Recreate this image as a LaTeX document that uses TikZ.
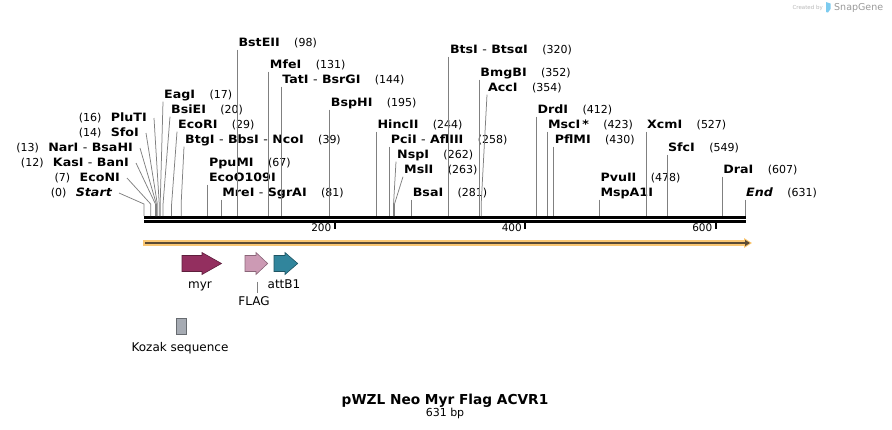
\documentclass[tikz,border=0pt]{standalone}
\usepackage{fontspec}
\setmainfont{DejaVu Sans}
\newfontfamily\enzfont[FakeStretch=1.1]{DejaVu Sans}
\usetikzlibrary{positioning,arrows.meta}

\definecolor{myrfill}{HTML}{932F5F}
\definecolor{myrline}{HTML}{5E1E3C}
\definecolor{flagfill}{HTML}{CC9AB4}
\definecolor{flagline}{HTML}{8A6578}
\definecolor{attfill}{HTML}{31859C}
\definecolor{attline}{HTML}{1F5563}
\definecolor{kozfill}{HTML}{A6ABB3}
\definecolor{kozline}{HTML}{676B70}
\definecolor{orfill}{HTML}{FAC773}
\definecolor{ordark}{HTML}{5B4B35}
\definecolor{snapblue}{HTML}{7CCBEF}

% bp -> x position on the map
\newcommand{\bpx}[1]{144+0.9525*#1}

\begin{document}
\begin{tikzpicture}[x=1pt,y=-1pt,
  enz/.style={font=\enzfont\bfseries\fontsize{11.5}{12}\selectfont, anchor=base west,
    inner xsep=1pt, inner ysep=1pt, text height=8.5pt, text depth=2.5pt},
  lenz/.style={enz, anchor=base east},
  num/.style={font=\fontsize{11}{12}\selectfont, inner xsep=1pt, inner ysep=1pt,
    text height=8.5pt, text depth=2.5pt},
  cut/.style={draw=black!50, line width=0.75pt},
  feat/.style={line width=0.6pt},
  flab/.style={font=\fontsize{12}{13}\selectfont, anchor=base}]

\useasboundingbox (0,0) rectangle (892,429);

% Credit line
\node[font=\fontsize{5.5}{6}\selectfont, text=black!28, anchor=base east, inner sep=0pt] (credit) at (823,9.5) {Created by};
\fill[snapblue] (826,2) -- (830.5,3.5) -- (830.5,9) -- (828,12.5) -- (826,12) -- cycle;
\node[font=\fontsize{9.5}{10}\selectfont, text=black!40, anchor=base west, inner sep=0pt] (snap) at (834,10.5) {SnapGene};

% Sites on the backbone
\foreach \p in {0,7,12,13,14,16,17,20,29,39,67,81,98,131,144,195,244,258,262,263,281,320,352,354,412,423,430,478,527,549,607,631}
  \coordinate (c\p) at ({\bpx{\p}},216);

% Backbone and ruler
\draw[line width=2.7pt] (144,217.3) -- (745.5,217.3);
\draw[line width=2.7pt] (144,221.5) -- (745.5,221.5);
\foreach \t in {200,400,600} {
  \draw[line width=2pt] ({\bpx{\t}},222.5) -- ({\bpx{\t}},229);
  \node[font=\fontsize{10.5}{11}\selectfont, anchor=base east, inner sep=0pt] (t\t) at ({\bpx{\t}-3},231) {\t};
}

% Enzymes, left side
\node[lenz] (n16) at (148,121) {PluTI};
\node[lenz] (n14) at (140,136) {SfoI};
\node[lenz] (n13) at (134,151) {NarI \textmd{-} BsaHI};
\node[lenz] (n12) at (130,166) {KasI \textmd{-} BanI};
\node[lenz] (n7) at (121,181) {EcoNI};
\node[lenz] (n0) at (113,196) {\itshape Start};
\node[num, left=7pt of n16] (p16) {(16)};
\node[num, left=7pt of n14] (p14) {(14)};
\node[num, left=7pt of n13] (p13) {(13)};
\node[num, left=7pt of n12] (p12) {(12)};
\node[num, left=7pt of n7] (p7) {(7)};
\node[num, left=7pt of n0] (p0) {(0)};

% Enzymes, right side
\node[enz] (n98) at ({\bpx{98}},46) {BstEII};
\node[enz] (n320) at ({\bpx{320}},53) {BtsI \textmd{-} BtsαI};
\node[enz] (n131) at ({\bpx{131}},68) {MfeI};
\node[enz] (n352) at ({\bpx{352}},76) {BmgBI};
\node[enz] (n144) at ({\bpx{144}},83) {TatI \textmd{-} BsrGI};
\node[enz] (n354) at (487,91) {AccI};
\node[enz] (n17) at (163,98) {EagI};
\node[enz] (n195) at ({\bpx{195}},106) {BspHI};
\node[enz] (n20) at (170,113) {BsiEI};
\node[enz] (n412) at ({\bpx{412}},113) {DrdI};
\node[enz] (n29) at (177,128) {EcoRI};
\node[enz] (n244) at ({\bpx{244}},128) {HincII};
\node[enz] (n423) at ({\bpx{423}},128) {MscI\,*};
\node[enz] (n527) at ({\bpx{527}},128) {XcmI};
\node[enz] (n39) at (184,143) {BtgI \textmd{-} BbsI \textmd{-} NcoI};
\node[enz] (n258) at ({\bpx{258}},143) {PciI \textmd{-} AflIII};
\node[enz] (n430) at ({\bpx{430}},143) {PflMI};
\node[enz] (n549) at ({\bpx{549}},151) {SfcI};
\node[enz] (n262) at (396,158) {NspI};
\node[enz] (n67a) at ({\bpx{67}},166) {PpuMI};
\node[enz] (n263) at (403,173) {MslI};
\node[enz] (n607) at ({\bpx{607}},173) {DraI};
\node[enz] (n478a) at ({\bpx{478}},181) {PvuII};
\node[enz] (n67) at ({\bpx{67}},181) {EcoO109I};
\node[enz] (n478) at ({\bpx{478}},196) {MspA1I};
\node[enz] (n81) at ({\bpx{81}},196) {MreI \textmd{-} SgrAI};
\node[enz] (n281) at ({\bpx{281}},196) {BsaI};
\node[enz] (n631) at ({\bpx{631}},196) {\itshape End};

\node[num, right=12pt of n98] (p98) {(98)};
\node[num, right=12pt of n320] (p320) {(320)};
\node[num, right=12pt of n131] (p131) {(131)};
\node[num, right=12pt of n352] (p352) {(352)};
\node[num, right=12pt of n144] (p144) {(144)};
\node[num, right=12pt of n354] (p354) {(354)};
\node[num, right=12pt of n17] (p17) {(17)};
\node[num, right=12pt of n195] (p195) {(195)};
\node[num, right=12pt of n20] (p20) {(20)};
\node[num, right=12pt of n412] (p412) {(412)};
\node[num, right=12pt of n29] (p29) {(29)};
\node[num, right=12pt of n244] (p244) {(244)};
\node[num, right=12pt of n423] (p423) {(423)};
\node[num, right=12pt of n527] (p527) {(527)};
\node[num, right=12pt of n39] (p39) {(39)};
\node[num, right=12pt of n258] (p258) {(258)};
\node[num, right=12pt of n430] (p430) {(430)};
\node[num, right=12pt of n549] (p549) {(549)};
\node[num, right=12pt of n262] (p262) {(262)};
\node[num, right=12pt of n67a] (p67) {(67)};
\node[num, right=12pt of n263] (p263) {(263)};
\node[num, right=12pt of n607] (p607) {(607)};
\node[num, right=12pt of n478a] (p478) {(478)};
\node[num, right=12pt of n81] (p81) {(81)};
\node[num, right=12pt of n281] (p281) {(281)};
\node[num, right=12pt of n631] (p631) {(631)};

% Cut site lines
\foreach \p in {0,7,12,13,14,16}
  \draw[cut] ([xshift=6pt]n\p.east) -- ([yshift=12pt]c\p) -- (c\p);
\foreach \p in {17,20,29,39,67,81,98,131,144,195,244,258,262,263,281,320,352,354,412,423,430,478,527,549,607,631}
  \draw[cut] (n\p.south west) -- ([yshift=12pt]c\p) -- (c\p);

% Orange arrow under the map
\draw[line width=5.5pt, draw=orfill] (143,243) -- (746,243);
\fill[orfill] (744,238) -- (752,243) -- (744,248) -- cycle;
\draw[line width=1.6pt, draw=ordark, -{Triangle[length=5pt,width=6pt]}] (145,243) -- (750,243);

% Features
\draw[feat, draw=myrline, fill=myrfill] (182,255.5) -- (202,255.5) -- (202,252.5) -- (221.5,263.5)
  -- (202,274.5) -- (202,271.5) -- (182,271.5) -- cycle;
\draw[feat, draw=flagline, fill=flagfill] (245,255.5) -- (256,255.5) -- (256,252.5) -- (267.7,263.5)
  -- (256,274.5) -- (256,271.5) -- (245,271.5) -- cycle;
\draw[feat, draw=attline, fill=attfill] (274,255.5) -- (285,255.5) -- (285,252.5) -- (297.7,263.5)
  -- (285,274.5) -- (285,271.5) -- (274,271.5) -- cycle;
\draw[feat, draw=kozline, fill=kozfill] (176,318) rectangle (186.5,334.5);

\node[flab] (myr) at (200,288) {myr};
\node[flab] (attB1) at (284,288) {attB1};
\node[flab] (flag) at (254,305) {FLAG};
\coordinate (flagtip) at (257,281.5);
\draw[cut] (flagtip) -- (flag.north -| flagtip);
\node[flab] (kozak) at (180,351) {Kozak sequence};

% Title
\node[font=\bfseries\fontsize{13.7}{15}\selectfont, anchor=base] (title) at (445,404) {pWZL Neo Myr Flag ACVR1};
\node[font=\fontsize{11}{12}\selectfont, anchor=base] (size) at (445,416.7) {631 bp};
\end{tikzpicture}
\end{document}
